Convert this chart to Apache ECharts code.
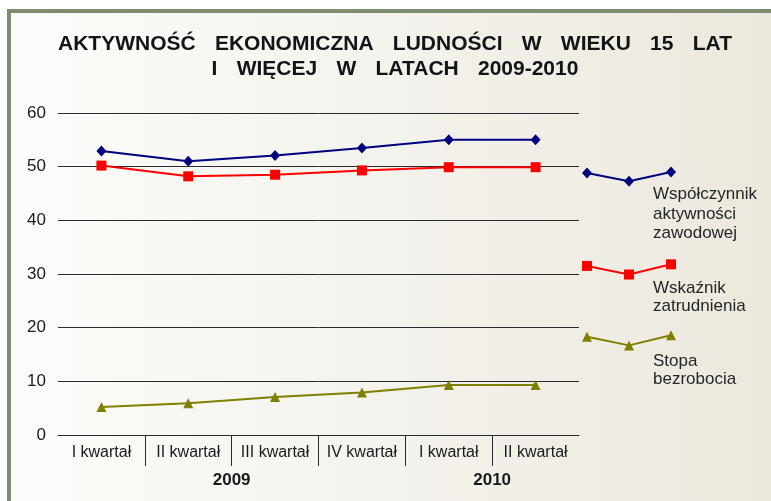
<!DOCTYPE html>
<html><head><meta charset="utf-8">
<script src="https://cdn.jsdelivr.net/npm/echarts@6/dist/echarts.min.js"></script>
<style>html,body{margin:0;padding:0;background:#fff}#c{width:771px;height:501px}</style>
</head><body><div id="c"></div>
<script>
const quarters = ['I kwartał', 'II kwartał', 'III kwartał', 'IV kwartał', 'I kwartał', 'II kwartał'];
const years = ['2009', '2010'];
const quartersPerYear = [4, 2];
const yMin = 0, yMax = 60, yStep = 10;
const activityRate = [52.9, 51.0, 52.1, 53.5, 55.0, 55.0];
const employmentRate = [50.2, 48.2, 48.5, 49.3, 49.9, 49.9];
const unemploymentRate = [5.2, 5.9, 7.1, 7.9, 9.3, 9.3];
const keyPoints = ['a', 'b', 'c'];
const keyActivity = [48.8, 47.3, 49.0];
const keyEmployment = [31.5, 29.9, 31.8];
const keyUnemployment = [18.3, 16.7, 18.6];
const seriesNames = ['Współczynnik\naktywności\nzawodowej', 'Wskaźnik\nzatrudnienia', 'Stopa\nbezrobocia'];
const titleWords = [['AKTYWNOŚĆ', 'EKONOMICZNA', 'LUDNOŚCI', 'W', 'WIEKU', '15', 'LAT'], ['I', 'WIĘCEJ', 'W', 'LATACH', '2009-2010']];

const FONT = 'Liberation Sans, Arial, sans-serif';
const GAP = '   \u200A';
const colors = ['#000080', '#ff0000', '#808000'];
const symbols = ['diamond', 'rect', 'triangle'];
const symbolSizes = [[10, 11], 10, 10];

// year label centres computed from group sizes
const yearCentres = {};
let acc = 0;
quartersPerYear.forEach((n, i) => { yearCentres[acc + n / 2] = years[i]; acc += n; });

const chart = echarts.init(document.getElementById('c'), null, {renderer: 'canvas'});

function mkSeries(name, data, i, xi) {
  return {
    name: name, type: 'line', data: data, xAxisIndex: xi, yAxisIndex: xi,
    symbol: symbols[i], symbolSize: symbolSizes[i], showAllSymbol: true,
    lineStyle: {color: colors[i], width: 2},
    itemStyle: {color: colors[i]},
    emphasis: {disabled: true}, silent: true, z: 5
  };
}

chart.setOption({
  animation: false,
  title: {
    text: titleWords.map(l => l.join(GAP)).join('\n'),
    left: 390, top: 27, textAlign: 'center',
    textStyle: {fontFamily: FONT, fontSize: 21, fontWeight: 'bold', color: '#141414', lineHeight: 25}
  },
  graphic: [
    {type: 'rect', z: -10, silent: true, shape: {x: 11, y: 13, width: 760, height: 488},
      style: {fill: {type: 'linear', x: 0, y: 0, x2: 1, y2: 0, colorStops: [
        {offset: 0, color: '#fcfcfa'}, {offset: 1, color: '#ece8de'}]}}},
    {type: 'rect', z: -9, silent: true, shape: {x: 7, y: 9, width: 764, height: 4}, style: {fill: '#7e8c6f'}},
    {type: 'rect', z: -9, silent: true, shape: {x: 7, y: 9, width: 4, height: 492}, style: {fill: '#7e8c6f'}},
    {type: 'text', left: 653, top: 185, silent: true,
      style: {text: seriesNames[0], fontFamily: FONT, fontSize: 17, lineHeight: 19.5, fill: '#262626'}},
    {type: 'text', left: 653, top: 279, silent: true,
      style: {text: seriesNames[1], fontFamily: FONT, fontSize: 17, lineHeight: 18.5, fill: '#262626'}},
    {type: 'text', left: 653, top: 352, silent: true,
      style: {text: seriesNames[2], fontFamily: FONT, fontSize: 17, lineHeight: 18.5, fill: '#262626'}}
  ],
  grid: [
    {left: 58, right: 192, top: 113, bottom: 66},
    {left: 58, right: 192, top: 435, height: 31},
    {left: 587, right: 100, top: 113, bottom: 66}
  ],
  xAxis: [
    {type: 'category', gridIndex: 0, data: quarters, boundaryGap: true,
      axisLine: {show: true, lineStyle: {color: '#2a2a2a', width: 1}},
      axisTick: {show: false},
      axisLabel: {fontFamily: FONT, fontSize: 16, color: '#1a1a1a', margin: 10, interval: 0}},
    {type: 'value', gridIndex: 1, min: 0, max: quarters.length, interval: 1,
      axisLine: {show: false}, axisTick: {show: false},
      splitLine: {show: true, showMinLine: false, showMaxLine: false, lineStyle: {color: '#2a2a2a', width: 1}},
      axisLabel: {fontFamily: FONT, fontSize: 17, fontWeight: 'bold', color: '#1a1a1a', margin: 6,
        showMinLabel: true, showMaxLabel: true,
        formatter: v => yearCentres[v] || ''}},
    {type: 'category', gridIndex: 2, data: keyPoints, boundaryGap: false, show: false}
  ],
  yAxis: [
    {type: 'value', gridIndex: 0, min: yMin, max: yMax, interval: yStep,
      axisLine: {show: false}, axisTick: {show: false},
      axisLabel: {fontFamily: FONT, fontSize: 17, color: '#1a1a1a', margin: 12},
      splitLine: {show: true, lineStyle: {color: '#2a2a2a', width: 1}}},
    {type: 'value', gridIndex: 1, min: 0, max: 1, show: false},
    {type: 'value', gridIndex: 2, min: yMin, max: yMax, show: false}
  ],
  series: [
    mkSeries('a', activityRate, 0, 0),
    mkSeries('e', employmentRate, 1, 0),
    mkSeries('u', unemploymentRate, 2, 0),
    mkSeries('ka', keyActivity, 0, 2),
    mkSeries('ke', keyEmployment, 1, 2),
    mkSeries('ku', keyUnemployment, 2, 2)
  ]
});
</script></body></html>
